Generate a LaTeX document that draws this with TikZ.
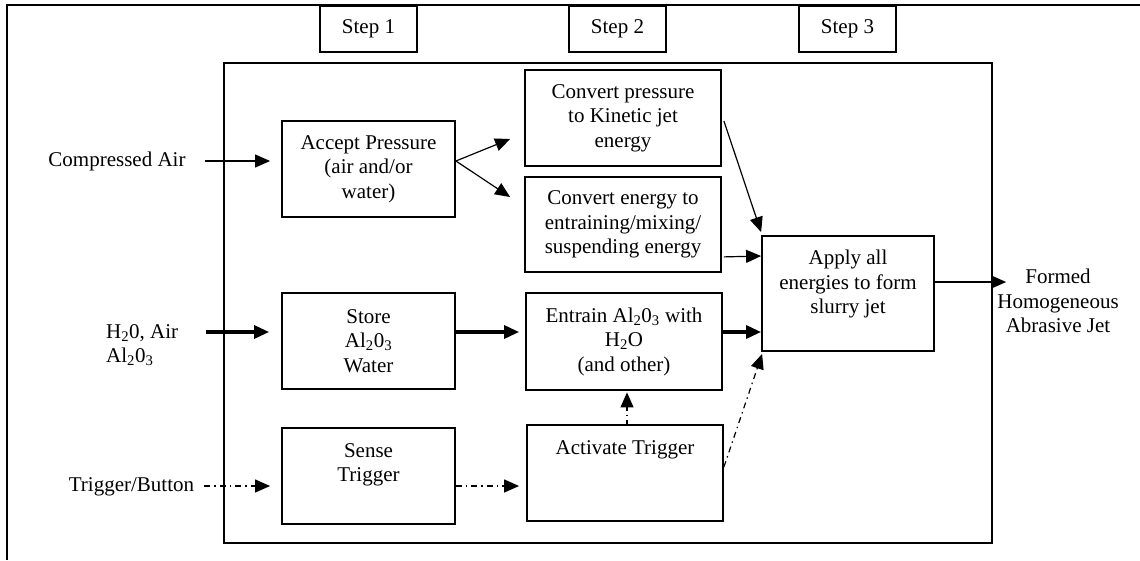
\documentclass[tikz,border=0pt]{standalone}
\usepackage{fontspec}
\setmainfont{Liberation Serif}
\usetikzlibrary{arrows.meta,calc}
\begin{document}
\begin{tikzpicture}[x=1pt,y=-1pt,
  every node/.style={font=\fontsize{21}{24.5}\selectfont},
  box/.style={draw,line width=1.8pt,inner sep=0pt,align=center},
  lbl/.style={inner sep=0pt,align=center},
  tip/.style={-{Triangle[length=15pt,width=13pt]}},
  thinarrow/.style={tip,line width=1.2pt},
  thickarrow/.style={tip,line width=3.2pt},
  dasharrow/.style={tip,line width=1.2pt,dash pattern=on 6pt off 4pt on 1.5pt off 4pt}]
\useasboundingbox (0,0) rectangle (1140,560);
% outer frame (cropped)
\draw[line width=1.8pt] (7,560) -- (7,5) -- (1140,5);
% inner frame
\draw[line width=1.8pt] (224,63) rectangle (992,543);
% step boxes
\node[box,minimum width=97pt,minimum height=46pt] (s1) at (368.5,29) {Step 1};
\node[box,minimum width=97pt,minimum height=46pt] (s2) at (617.5,29) {Step 2};
\node[box,minimum width=97pt,minimum height=46pt] (s3) at (847.5,29) {Step 3};
% process boxes
\node[box,minimum width=173pt,minimum height=96pt] (acc) at (368.5,169) {Accept Pressure\\(air and/or\\water)};
\node[box,minimum width=196pt,minimum height=96pt] (cp) at (623,118) {Convert pressure\\to Kinetic jet\\energy};
\node[box,minimum width=196pt,minimum height=95pt] (ce) at (623,224.5) {Convert energy to\\entraining/mixing/\\suspending energy};
\node[box,minimum width=172pt,minimum height=115pt] (app) at (848,293.5) {};
\node[lbl,anchor=north] (apptxt) at (848,250) {Apply all\\energies to form\\slurry jet};
\node[box,minimum width=173pt,minimum height=96pt] (store) at (368.5,341) {Store\\Al\textsubscript{2}0\textsubscript{3}\\Water};
\node[box,minimum width=196pt,minimum height=97pt] (ent) at (624,341.5) {Entrain Al\textsubscript{2}0\textsubscript{3} with\\H\textsubscript{2}O\\(and other)};
\node[box,minimum width=173pt,minimum height=96pt] (sense) at (368.5,476) {};
\node[lbl,anchor=north] (sensetxt) at (368.5,443) {Sense\\Trigger};
\node[box,minimum width=196pt,minimum height=96pt] (act) at (625,473) {};
\node[lbl,anchor=north] (acttxt) at (625,440) {Activate Trigger};
% inputs / outputs
\node[lbl] (ca) at (117,161) {Compressed Air};
\node[lbl,anchor=west,align=left] (h2o) at (106,345) {H\textsubscript{2}0, Air\\Al\textsubscript{2}0\textsubscript{3}};
\node[lbl] (trig) at (131.5,487) {Trigger/Button};
\node[lbl] (formed) at (1058,301) {Formed\\Homogeneous\\Abrasive Jet};
% connectors
\draw[thinarrow] ($(ca.east)+(19,0)$) -- ($(acc.west)+(-11,-8)$);
\draw[thinarrow] ($(acc.east)+(0,-8)$) -- ($(cp.west)+(-14,21)$);
\draw[thinarrow] ($(acc.east)+(0,-8)$) -- ($(ce.west)+(-14,-27.5)$);
\draw[thinarrow] ($(cp.east)+(2,3)$) -- ($(app.north west)+(0,-3)$);
\draw[thinarrow] ($(ce.south east)+(2,-16)$) -- ($(app.west)+(0,-37.5)$);
\draw[thickarrow] ($(h2o.west)+(100,-13)$) -- ($(store.west)+(-12,-9)$);
\draw[thickarrow] ($(store.east)+(0,-9)$) -- ($(ent.west)+(-6,-9.5)$);
\draw[thickarrow] ($(ent.east)+(0,-9.5)$) -- ($(app.west)+(0,38.5)$);
\draw[thinarrow] ($(app.east)+(0,-11.5)$) -- ($(formed.west)+(9,-19)$);
\draw[dasharrow] ($(trig.east)+(10,-1)$) -- ($(sense.west)+(-11,10)$);
\draw[dasharrow] ($(sense.east)+(0,10)$) -- ($(act.west)+(-7,13)$);
\draw[dasharrow] ($(act.north)+(2,2)$) -- ($(ent.south)+(3,1.5)$);
\draw[dasharrow] ($(act.east)+(0,-6)$) -- ($(app.south west)+(1,2)$);
\end{tikzpicture}
\end{document}
